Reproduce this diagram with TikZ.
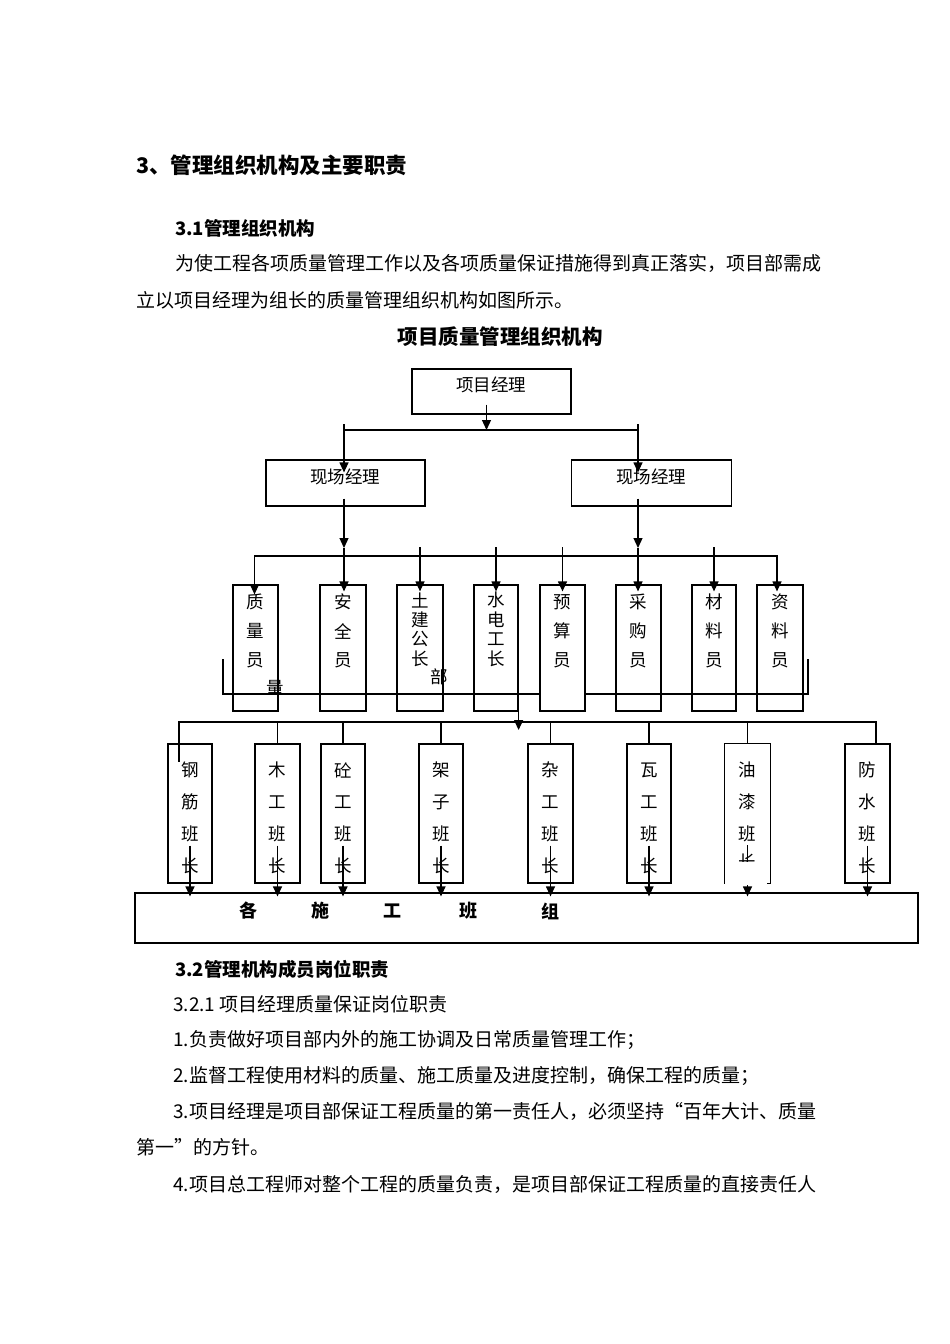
\documentclass[tikz,border=0pt]{standalone}
\usepackage{fontspec}
\setmainfont{Noto Sans CJK SC}
\usetikzlibrary{arrows.meta}
\tikzset{
  ln/.style={line width=1.2pt, line cap=rect},
  arr/.style={line width=1.2pt, -{Triangle[length=10pt,width=9pt]}},
  bx/.style={draw, line width=1.2pt, inner sep=0pt},
  tx/.style={anchor=west, inner sep=0pt, font=\fontsize{19}{19}\selectfont},
  hd/.style={anchor=west, inner sep=0pt, font=\fontsize{18.5}{18.5}\selectfont\bfseries},
  lab/.style={inner sep=0pt, font=\fontsize{17.5}{17.5}\selectfont},
  vch/.style={inner sep=0pt, font=\fontsize{17.5}{17.5}\selectfont},
  gch/.style={inner sep=0pt, font=\fontsize{18}{18}\selectfont\bfseries},
}
\newcommand\mybox[5]{\node[bx, minimum width=#4pt, minimum height=#5pt] (#1) at (#2,#3) {};}
\newcommand\vlab[5]{\foreach \c [count=\i] in {#5} {\node[vch] (#1-\i) at (#2,{#3+(\i-1)*#4}) {\c};}}
\begin{document}
\begin{tikzpicture}[x=1pt,y=-1pt]
\fill[white] (0,0) rectangle (950,1344);
\useasboundingbox (0,0) rectangle (950,1344);

% ---------- document text ----------
\node[anchor=west, inner sep=0pt, font=\fontsize{21.5}{21.5}\selectfont\bfseries] (h3) at (136,165) {3、管理组织机构及主要职责};
\node[hd] (h31) at (175,228) {3.1管理组织机构};
\node[tx] (p1) at (175,263) {为使工程各项质量管理工作以及各项质量保证措施得到真正落实，项目部需成};
\node[tx] (p2) at (136,300) {立以项目经理为组长的质量管理组织机构如图所示。};
\node[inner sep=0pt, font=\fontsize{20.5}{20.5}\selectfont\bfseries] (ttl) at (500,337) {项目质量管理组织机构};

\node[hd] (h32) at (175,969) {3.2管理机构成员岗位职责};
\node[tx] (q0) at (173,1004) {3.2.1 项目经理质量保证岗位职责};
\node[tx] (q1) at (173,1040) {1.负责做好项目部内外的施工协调及日常质量管理工作；};
\node[tx] (q2) at (173,1076) {2.监督工程使用材料的质量、施工质量及进度控制，确保工程的质量；};
\node[tx] (q3) at (173,1111) {3.项目经理是项目部保证工程质量的第一责任人，必须坚持“百年大计、质量};
\node[tx] (q3b) at (136,1147) {第一”的方针。};
\node[tx] (q4) at (173,1184) {4.项目总工程师对整个工程的质量负责，是项目部保证工程质量的直接责任人};

% ---------- bracket (drawn under boxes) ----------
\coordinate (bl) at (223,660);
\coordinate (bl1) at (223,694);
\coordinate (br1) at (808,694);
\coordinate (br) at (808,660);
\draw[ln] (bl) -- (bl1) -- (br1) -- (br);

% ---------- boxes ----------
\mybox{pm}{491.5}{391.5}{159}{45}
\mybox{fl}{345.5}{483}{159}{46}
\mybox{fr}{651.5}{483}{160}{46}

\mybox{zl}{255.5}{648}{45}{126}
\mybox{aq}{343}{648}{46}{126}
\mybox{tj}{420}{648}{46}{126}
\mybox{sd}{496}{648}{44}{126}
\node[bx, fill=white, minimum width=45pt, minimum height=126pt] (ys) at (562.5,648) {};
\mybox{cg}{638.5}{648}{45}{126}
\mybox{cl}{714}{648}{44}{126}
\mybox{zz}{780}{648}{46}{126}

\mybox{gj}{190}{813.5}{44}{139}
\mybox{mg}{277.5}{813.5}{45}{139}
\mybox{tg}{343}{813.5}{44}{139}
\mybox{jz}{441}{813.5}{44}{139}
\mybox{zg}{550.5}{813.5}{45}{139}
\mybox{wg}{649}{813.5}{44}{139}
\node[inner sep=0pt, minimum width=45pt, minimum height=139pt] (yq) at (747.5,813.5) {};
\draw[ln] (yq.south west) -- (yq.north west) -- (yq.north east) -- (yq.south east) -- ([xshift=-3pt]yq.south east);
\mybox{fs}{867.5}{813.5}{45}{139}

\mybox{gb}{526.5}{918}{783}{50}

% ---------- labels ----------
\node[lab] (tpm) at (491,385) {项目经理};
\node[lab] (tfl) at (345,477) {现场经理};
\node[lab] (tfr) at (651,477) {现场经理};

\vlab{a}{255.5}{602}{29}{质,量,员}
\vlab{b}{343}{602}{29}{安,全,员}
\vlab{c}{420}{600}{19.5}{土,建,公,长}
\vlab{d}{496}{600}{19.5}{水,电,工,长}
\vlab{e}{562.5}{602}{29}{预,算,员}
\vlab{f}{638.5}{602}{29}{采,购,员}
\vlab{g}{714}{602}{29}{材,料,员}
\vlab{h}{780}{602}{29}{资,料,员}
\node[vch] (x1) at (275,688) {量};
\node[vch] (x2) at (439,677) {部};

\vlab{k}{190}{770}{32}{钢,筋,班,长}
\vlab{m}{277.5}{770}{32}{木,工,班,长}
\vlab{n}{343}{770}{32}{砼,工,班,长}
\vlab{o}{441}{770}{32}{架,子,班,长}
\vlab{p}{550.5}{770}{32}{杂,工,班,长}
\vlab{r}{649}{770}{32}{瓦,工,班,长}
\vlab{s}{747.5}{770}{32}{油,漆,班}
\vlab{u}{867.5}{770}{32}{防,水,班,长}
\begin{scope}
\clip (725,840) rectangle (770,861);
\node[vch] (s-4) at (747.5,862) {长};
\draw[ln] ([yshift=38pt]yq.south) -- ([yshift=22pt]yq.south);
\end{scope}

\node[gch] (g1) at (248,911) {各};
\node[gch] (g2) at (320,911) {施};
\node[gch] (g3) at (392,911) {工};
\node[gch] (g4) at (468,911) {班};
\node[gch] (g5) at (550,911) {组};

% ---------- connectors: top ----------
\coordinate (h1l) at (344,430);
\coordinate (h1r) at (638,430);
\coordinate (h1m) at (486.5,430);
\draw[arr] ([yshift=10pt]pm.south -| h1m) -- (h1m);
\draw[ln] (h1l) -- (h1r);
\draw[arr] ([yshift=6pt]h1l) -- ([yshift=-13pt]fl.north -| h1l);
\draw[arr] ([yshift=6pt]h1r) -- ([yshift=-13pt]fr.north -| h1r);

% ---------- connectors: middle ----------
\coordinate (h2l) at (254.5,556);
\coordinate (h2r) at (777,556);
\draw[ln] (h2l) -- (h2r);
\draw[arr] ([yshift=8pt]fl.south -| h1l) -- ([yshift=8pt]h1l |- h2l);
\draw[arr] ([yshift=8pt]fr.south -| h1r) -- ([yshift=8pt]h1r |- h2l);
\draw[arr] (h2l) -- ([yshift=-10pt]zl.north -| h2l);
\draw[arr] ([yshift=8pt]h1l |- h2l) -- ([yshift=-7pt]aq.north -| h1l);
\draw[arr] ([yshift=9pt]tj.north |- h2l) -- ([yshift=-7pt]tj.north);
\draw[arr] ([yshift=9pt]sd.north |- h2l) -- ([yshift=-7pt]sd.north);
\draw[arr] ([yshift=9pt]ys.north |- h2l) -- ([yshift=-7pt]ys.north);
\draw[arr] ([yshift=8pt]h1r |- h2l) -- ([yshift=-7pt]cg.north -| h1r);
\draw[arr] ([yshift=9pt]cl.north |- h2l) -- ([yshift=-7pt]cl.north);
\draw[arr] (h2r) -- ([yshift=-7pt]zz.north -| h2r);

% ---------- connectors: lower ----------
\coordinate (h3l) at (179,722);
\coordinate (h3r) at (876,722);
\draw[ln] (h3l) -- (h3r);
\draw[ln] (h3l) -- ([yshift=-18pt]gj.north -| h3l);
\draw[ln] (mg.north |- h3l) -- (mg.north);
\draw[ln] (tg.north |- h3l) -- (tg.north);
\draw[ln] (jz.north |- h3l) -- (jz.north);
\draw[ln] (zg.north |- h3l) -- (zg.north);
\draw[ln] (wg.north |- h3l) -- (wg.north);
\draw[ln] (yq.north |- h3l) -- (yq.north);
\draw[ln] (h3r) -- (fs.north -| h3r);
\draw[arr] (sd.south east) -- ([yshift=-8pt]sd.south east |- h3l);

% ---------- connectors: to bottom box ----------
\foreach \b in {gj,mg,tg,jz,zg,wg,fs}{
  \draw[arr] ([yshift=38pt]\b.south) -- ([yshift=-4pt]gb.north -| \b.south);
}
\draw[arr] ([yshift=-2pt]yq.south) -- ([yshift=-4pt]gb.north -| yq.south);
\end{tikzpicture}
\end{document}
